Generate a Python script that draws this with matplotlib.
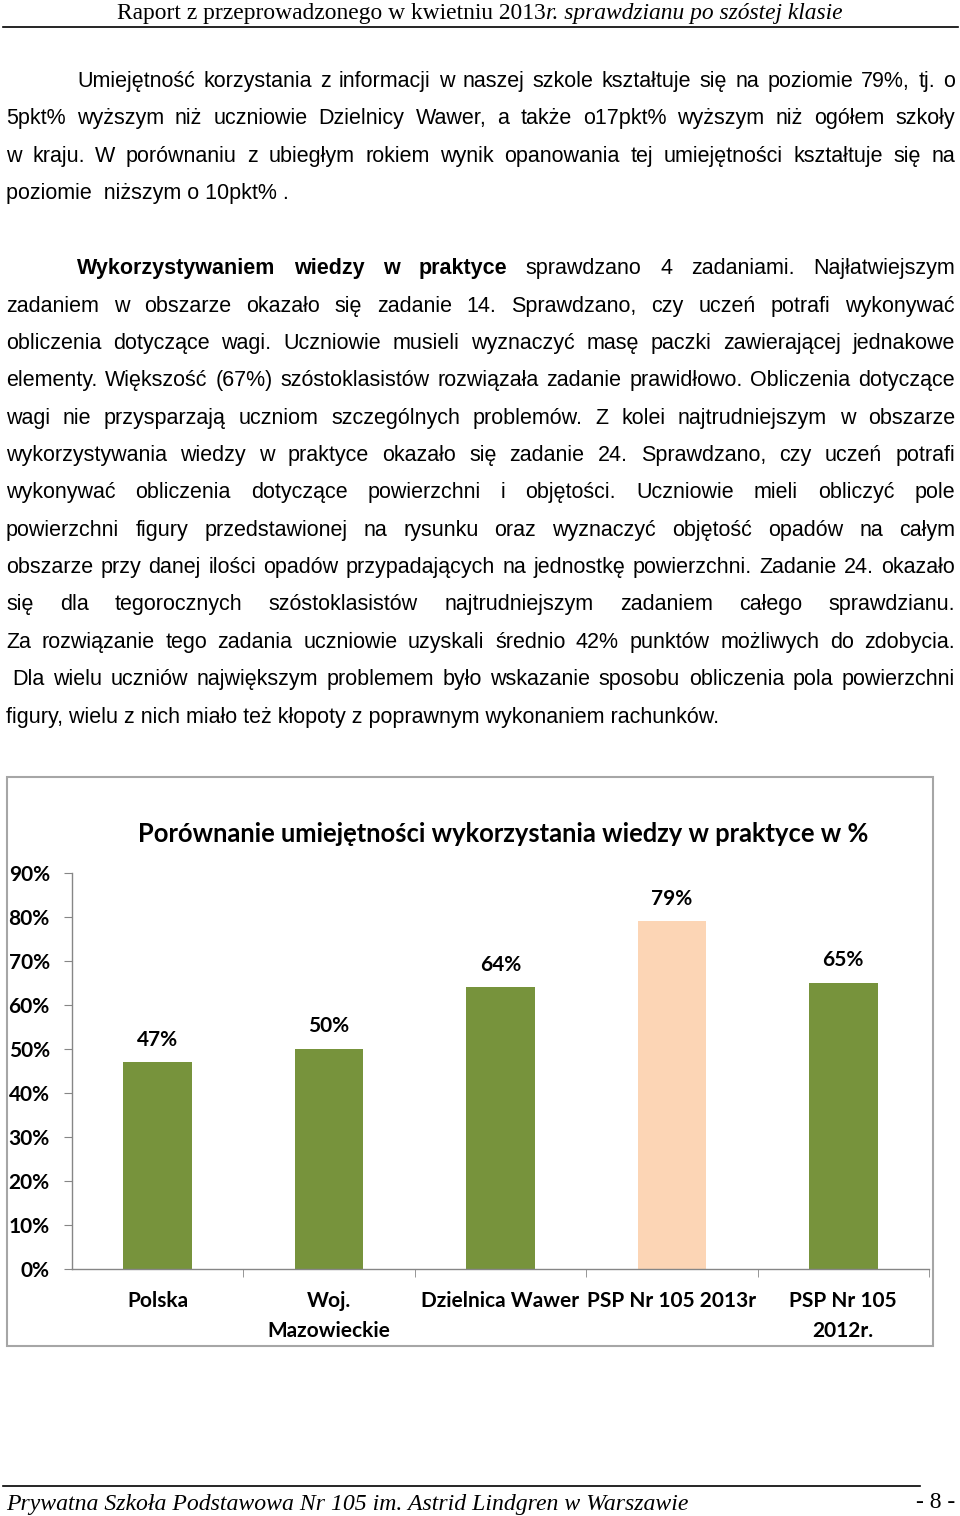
import numpy as np
import matplotlib
matplotlib.use('Agg')
import matplotlib.pyplot as plt
from matplotlib.patches import Rectangle

# ---- chart data ----
categories = ['Polska', 'Woj.\nMazowieckie', 'Dzielnica Wawer', 'PSP Nr 105 2013r', 'PSP Nr 105\n2012r.']
values     = [0.47, 0.50, 0.64, 0.79, 0.65]
bar_colors = ['#77933C', '#77933C', '#77933C', '#FCD5B5', '#77933C']
yticks     = [0.0, 0.1, 0.2, 0.3, 0.4, 0.5, 0.6, 0.7, 0.8, 0.9]
title      = 'Porównanie umiejętności wykorzystania wiedzy w praktyce w %'

header_a = 'Raport z przeprowadzonego w kwietniu 2013'
header_b = 'r. sprawdzianu po szóstej klasie'
footer   = 'Prywatna Szkoła Podstawowa Nr 105 im. Astrid Lindgren w Warszawie'
page_no  = '- 8 -'

# body text lines: (text, justified, left x, baseline y)
para1 = [
    ('Umiejętność korzystania z informacji w naszej szkole kształtuje się na poziomie 79%, tj. o', True, 77, 87),
    ('5pkt% wyższym niż uczniowie Dzielnicy Wawer, a także  o17pkt% wyższym  niż ogółem szkoły', True, 6, 124),
    ('w kraju. W porównaniu z ubiegłym rokiem wynik opanowania tej umiejętności kształtuje się na', True, 6, 162),
    ('poziomie  niższym o 10pkt% .', False, 6, 199),
]
para2 = [
    ('**Wykorzystywaniem **wiedzy **w **praktyce sprawdzano 4 zadaniami. Najłatwiejszym', True, 77, 274),
    ('zadaniem w obszarze okazało się zadanie 14. Sprawdzano, czy uczeń potrafi  wykonywać', True, 6, 312),
    ('obliczenia dotyczące wagi. Uczniowie musieli wyznaczyć masę paczki zawierającej jednakowe', True, 6, 349),
    ('elementy. Większość (67%) szóstoklasistów rozwiązała zadanie prawidłowo. Obliczenia dotyczące', True, 6, 386),
    ('wagi nie przysparzają uczniom szczególnych problemów. Z kolei najtrudniejszym w obszarze', True, 6, 424),
    ('wykorzystywania wiedzy w praktyce okazało się zadanie 24. Sprawdzano, czy uczeń potrafi', True, 6, 461),
    ('wykonywać obliczenia dotyczące powierzchni i objętości. Uczniowie mieli obliczyć pole', True, 6, 498),
    ('powierzchni figury przedstawionej na rysunku oraz wyznaczyć objętość opadów na całym', True, 6, 536),
    ('obszarze przy danej ilości opadów przypadających na jednostkę powierzchni. Zadanie 24. okazało', True, 6, 573),
    ('się dla tegorocznych szóstoklasistów najtrudniejszym zadaniem całego sprawdzianu.', True, 6, 610),
    ('Za rozwiązanie tego zadania uczniowie uzyskali średnio 42% punktów możliwych do zdobycia.', True, 6, 648),
    ('Dla wielu uczniów największym problemem było wskazanie sposobu obliczenia pola powierzchni', True, 12, 685),
    ('figury, wielu z nich miało też kłopoty z poprawnym wykonaniem rachunków.', False, 6, 723),
]

W, H = 960, 1516
fig = plt.figure(figsize=(W / 100, H / 100), dpi=100)
bg = fig.add_axes([0, 0, 1, 1])
bg.set_xlim(0, W)
bg.set_ylim(H, 0)
bg.axis('off')
renderer = fig.canvas.get_renderer()

BODY = 'Liberation Sans'
BODY_SIZE = 15.5
RIGHT = 955


def width_of(t):
    return t.get_window_extent(renderer).width


def draw_line(text, justify, x0, y):
    words = []
    for w in text.split():
        if w.startswith('**'):
            words.append((w[2:], 'bold'))
        else:
            words.append((w, 'normal'))
    if not justify:
        bg.text(x0, y, text, fontsize=BODY_SIZE, family=BODY, va='baseline', ha='left')
        return
    objs = [bg.text(0, y, w, fontsize=BODY_SIZE, family=BODY, fontweight=fw,
                    va='baseline', ha='left') for w, fw in words]
    widths = [width_of(o) for o in objs]
    gap = (RIGHT - x0 - sum(widths)) / (len(objs) - 1)
    x = x0
    for o, wd in zip(objs, widths):
        o.set_x(x)
        x += wd + gap


for line in para1 + para2:
    draw_line(*line)

# ---- header / footer ----
ha_txt = bg.text(0, 19, header_a, family='Liberation Serif', fontsize=16.9, va='baseline')
hb_txt = bg.text(0, 19, header_b, family='Liberation Serif', fontsize=16.9, style='italic', va='baseline')
wa, wb = width_of(ha_txt), width_of(hb_txt)
x0 = 480 - (wa + wb) / 2
ha_txt.set_x(x0)
hb_txt.set_x(x0 + wa)
bg.plot([3, 958], [27, 27], color='black', lw=1.2)

bg.plot([3, 920], [1486, 1486], color='black', lw=1.2)
bg.text(6, 1510, footer, family='Liberation Serif', fontsize=17.1, style='italic', va='baseline')
bg.text(955, 1508, page_no, family='Liberation Serif', fontsize=17, va='baseline', ha='right')

# ---- chart frame and title ----
bg.add_patch(Rectangle((7, 777), 926, 569, facecolor='none', edgecolor='#a6a6a6', lw=1.5))
bg.text(503, 834, title, family='Lato', fontweight='bold', fontsize=18.4, ha='center', va='center')

# ---- chart ----
left, right_px, top_px, bottom_px = 72, 929, 873, 1269
ax = fig.add_axes([left / W, (H - bottom_px) / H, (right_px - left) / W, (bottom_px - top_px) / H])
ax.patch.set_alpha(0)
x = np.arange(len(categories))
bars = ax.bar(x, values, width=0.4, color=bar_colors, zorder=2)
ax.set_xlim(-0.5, len(categories) - 0.5)
ax.set_ylim(0, 0.9)

for rect, v in zip(bars, values):
    ax.annotate('{:.0f}%'.format(v * 100), (rect.get_x() + rect.get_width() / 2, v),
                xytext=(0, 9), textcoords='offset points', ha='center', va='bottom',
                family='Lato', fontweight='bold', fontsize=15)

ax.set_yticks(yticks)
ax.set_yticklabels(['{:.0f}%'.format(t * 100) for t in yticks], family='Lato',
                   fontweight='bold', fontsize=15)
ax.set_xticks(x)
ax.set_xticklabels(categories, family='Lato', fontweight='bold', fontsize=15, linespacing=1.6)
ax.set_xticks(list(x + 0.5), minor=True)
ax.tick_params(axis='x', which='major', length=0, pad=16)
ax.tick_params(axis='x', which='minor', length=6, color='#868686', direction='out')
ax.tick_params(axis='y', length=6, color='#868686', direction='out', pad=10)
for s in ['top', 'right']:
    ax.spines[s].set_visible(False)
for s in ['left', 'bottom']:
    ax.spines[s].set_color('#868686')
    ax.spines[s].set_linewidth(1.0)

fig.savefig('out.png', dpi=100)
